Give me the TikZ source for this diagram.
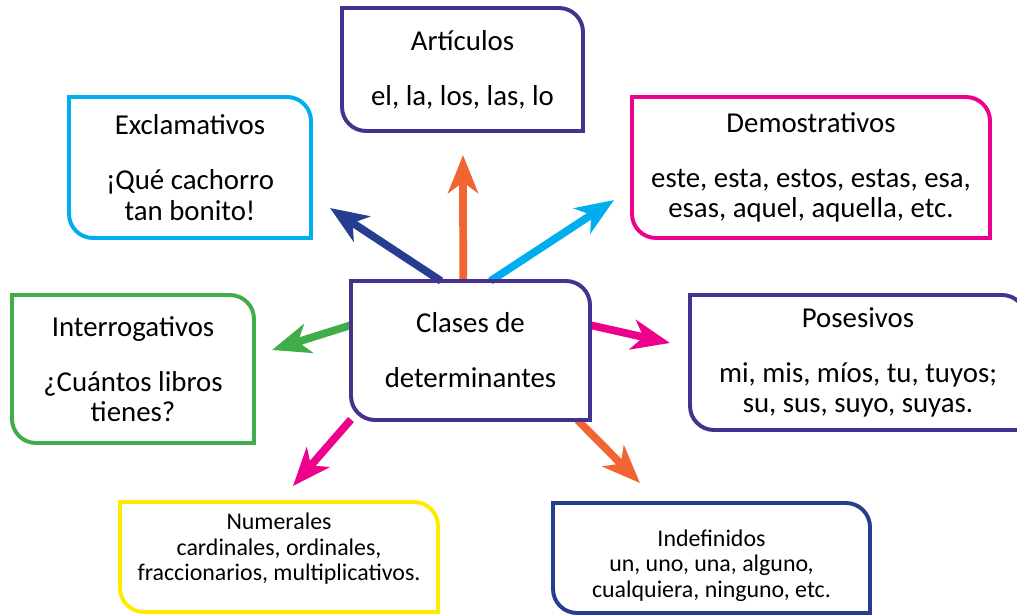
\documentclass[tikz,border=0pt]{standalone}
\usepackage{fontspec}
\setmainfont{Carlito}
\usetikzlibrary{arrows.meta}
\definecolor{detpurple}{RGB}{70,49,143}
\definecolor{detcyan}{RGB}{0,174,239}
\definecolor{detmagenta}{RGB}{236,0,140}
\definecolor{detgreen}{RGB}{64,173,72}
\definecolor{detyellow}{RGB}{255,235,0}
\definecolor{detnavy}{RGB}{38,62,143}
\definecolor{detorange}{RGB}{242,101,50}
\tikzset{
  leaf/.style={rectangle, inner sep=0pt, outer sep=0pt, align=center,
    font=\fontsize{20.5}{21.5}\selectfont},
  leafsmall/.style={leaf, font=\fontsize{17}{18.2}\selectfont},
  ray/.style={line width=5.5pt,
    -{Stealth[length=0.95cm, width=0.75cm, inset=0.27cm]}},
}
\begin{document}
\begin{tikzpicture}
  \useasboundingbox (0,0) rectangle (25.425,15.375);
  \clip (0,0) rectangle (25.425,15.375);
  % Central box
  \node[leaf, minimum width=5.975cm, minimum height=3.475cm] (ctr)
    at (11.7625,6.6125) {Clases de\\[0.62cm]determinantes};
  % Surrounding boxes
  \node[leaf, minimum width=6.025cm, minimum height=3.075cm] (art)
    at (11.5625,13.6375) {Artículos\\[0.62cm]el, la, los, las, lo};
  \node[leaf, minimum width=6.05cm, minimum height=3.525cm] (excl)
    at (4.75,11.1875) {Exclamativos\\[0.62cm]¡Qué cachorro\\tan bonito!};
  \node[leaf, minimum width=8.95cm, minimum height=3.525cm] (dem)
    at (20.275,11.1875) {Demostrativos\\[0.62cm]este, esta, estos, estas, esa,\\esas, aquel, aquella, etc.};
  \node[leaf, minimum width=6.05cm, minimum height=3.7cm] (inter)
    at (3.325,6.15) {Interrogativos\\[0.62cm]¿Cuántos libros\\tienes?};
  \node[leaf, minimum width=8.4cm, minimum height=3.375cm] (pos)
    at (21.45,6.3125) {Posesivos\\[0.6cm]mi, mis, míos, tu, tuyos;\\su, sus, suyo, suyas.};
  \node[leafsmall, minimum width=7.95cm, minimum height=2.75cm,
    text depth=0.5cm] (num)
    at (6.975,1.45) {Numerales\\cardinales, ordinales,\\fraccionarios, multiplicativos.};
  \node[leafsmall, minimum width=7.925cm, minimum height=2.75cm] (indef)
    at (17.7875,1.425) {\rule{0pt}{0.8cm}Indefinidos\\un, uno, una, alguno,\\cualquiera, ninguno, etc.};
  % Arrow tips
  \coordinate (tipexcl) at (8.25,10.175);
  \coordinate (tipart) at (11.575,11.5);
  \coordinate (tipdem) at (15.35,10.375);
  \coordinate (tipinter) at (6.8,6.625);
  \coordinate (tippos) at (16.75,6.8);
  \coordinate (tipnum) at (7.325,3.225);
  \coordinate (tipindef) at (16.0,3.3);
  % Arrows
  \draw[ray, detnavy] (ctr.113.7) -- (tipexcl);
  \draw[ray, detorange] (ctr.96.2) -- (tipart);
  \draw[ray, detcyan] (ctr.74.3) -- (tipdem);
  \draw[ray, detgreen] (ctr.168.9) -- (tipinter);
  \draw[ray, detmagenta] (ctr.12) -- (tippos);
  \draw[ray, detmagenta] (ctr.210.3) -- (tipnum);
  \draw[ray, detorange] (ctr.-33.5) -- (tipindef);
  % Outlines, rounded at top right and bottom left
  \foreach \n/\c in {ctr/detpurple, art/detpurple, excl/detcyan,
      dem/detmagenta, inter/detgreen, pos/detpurple,
      num/detyellow, indef/detnavy}{
    \draw[\c, line width=2.8pt] (\n.north west)
      -- ([xshift=-0.6cm]\n.north east)
      arc[start angle=90, end angle=0, radius=0.6cm]
      -- (\n.south east)
      -- ([xshift=0.6cm]\n.south west)
      arc[start angle=270, end angle=180, radius=0.6cm] -- cycle;
  }
\end{tikzpicture}
\end{document}
